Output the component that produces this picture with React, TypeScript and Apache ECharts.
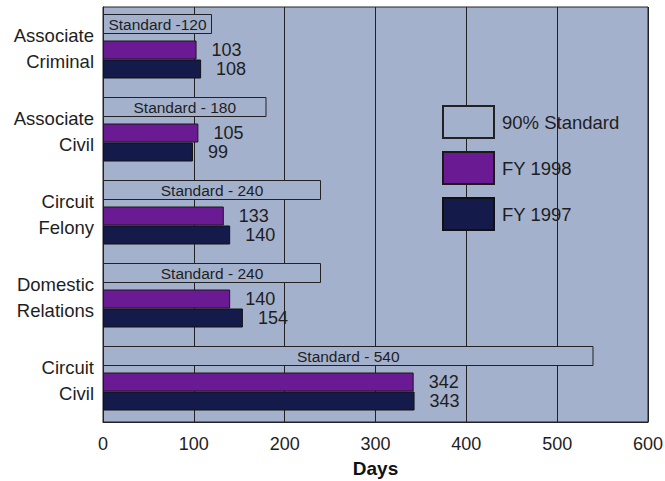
import React, { useEffect, useRef } from "react";
import * as echarts from "echarts";

const categories = [
  "Associate\nCriminal",
  "Associate\nCivil",
  "Circuit\nFelony",
  "Domestic\nRelations",
  "Circuit\nCivil",
];
const standardDays = [120, 180, 240, 240, 540];
const standardLabels = [
  "Standard -120",
  "Standard - 180",
  "Standard - 240",
  "Standard - 240",
  "Standard - 540",
];
const fy1998 = [103, 105, 133, 140, 342];
const fy1997 = [108, 99, 140, 154, 343];
const spacer = [0, 0, 0, 0, 0];
const xMin = 0;
const xMax = 600;
const xStep = 100;

const BG = "#a4b1cc";
const TXT = "#1e1e1e";
const FONT = "'Liberation Sans', Arial, Helvetica, sans-serif";

export default function App() {
  const ref = useRef<HTMLDivElement>(null);
  useEffect(() => {
    if (!ref.current) return;
    const chart = echarts.init(ref.current, undefined, { renderer: "svg" });
    const gridBase = {
      left: 103,
      width: 545,
      height: 415,
      outerBoundsMode: "none",
      containLabel: false,
    };
    chart.setOption({
      animation: false,
      textStyle: { fontFamily: FONT },
      grid: [
        {
          ...gridBase,
          top: 7,
          show: true,
          backgroundColor: BG,
          borderColor: "#222",
          borderWidth: 1,
        },
        { ...gridBase, top: 18 },
      ],
      xAxis: [
        {
          type: "value",
          gridIndex: 0,
          min: xMin,
          max: xMax,
          interval: xStep,
          name: "Days",
          nameLocation: "middle",
          nameGap: 37,
          nameMoveOverlap: false,
          nameTextStyle: {
            fontSize: 19,
            fontWeight: "bold",
            color: "#111",
            fontFamily: FONT,
          },
          axisLine: { show: true, lineStyle: { color: "#222", width: 1 } },
          axisTick: { show: false },
          axisLabel: { fontSize: 18, color: TXT, margin: 13, fontFamily: FONT },
          splitLine: { show: true, lineStyle: { color: "#222", width: 1 } },
        },
        {
          type: "value",
          gridIndex: 1,
          min: xMin,
          max: xMax,
          interval: xStep,
          show: false,
        },
      ],
      yAxis: [
        {
          type: "category",
          gridIndex: 0,
          data: categories,
          inverse: true,
          axisLine: { show: true, lineStyle: { color: "#222", width: 1 } },
          axisTick: { show: false },
          splitLine: { show: false },
          axisLabel: {
            fontSize: 18.5,
            lineHeight: 26,
            color: TXT,
            margin: 9,
            align: "right",
            fontFamily: FONT,
          },
        },
        {
          type: "category",
          gridIndex: 1,
          data: categories,
          inverse: true,
          show: false,
        },
      ],
      legend: {
        data: ["90% Standard", "FY 1998", "FY 1997"],
        orient: "vertical",
        left: 437,
        top: 100,
        itemWidth: 51,
        itemHeight: 32,
        itemGap: 12,
        icon: "rect",
        textStyle: {
          fontSize: 18.5,
          color: TXT,
          fontFamily: FONT,
          padding: [0, 0, 0, 3],
        },
      },
      series: [
        {
          name: "90% Standard",
          type: "bar",
          xAxisIndex: 0,
          yAxisIndex: 0,
          barWidth: 20,
          barGap: 0,
          data: standardDays,
          itemStyle: { color: BG, borderColor: "#222", borderWidth: 1 },
          label: {
            show: true,
            position: "inside",
            fontSize: 15.5,
            color: TXT,
            fontFamily: FONT,
            formatter: (p: any) => standardLabels[p.dataIndex],
          },
        },
        {
          name: "spacer",
          type: "bar",
          xAxisIndex: 0,
          yAxisIndex: 0,
          barWidth: 49,
          barGap: 0,
          data: spacer,
          silent: true,
          itemStyle: { color: "rgba(0,0,0,0)", borderWidth: 0 },
          label: { show: false },
        },
        {
          name: "FY 1998",
          type: "bar",
          xAxisIndex: 1,
          yAxisIndex: 1,
          barWidth: 19,
          barGap: 0,
          data: fy1998,
          itemStyle: { color: "#6a1b93", borderColor: "#1a1a1a", borderWidth: 1 },
          label: {
            show: true,
            position: "right",
            distance: 15,
            fontSize: 18,
            color: TXT,
            fontFamily: FONT,
          },
        },
        {
          name: "FY 1997",
          type: "bar",
          xAxisIndex: 1,
          yAxisIndex: 1,
          barWidth: 19,
          barGap: 0,
          data: fy1997,
          itemStyle: { color: "#141a4a", borderColor: "#111", borderWidth: 1 },
          label: {
            show: true,
            position: "right",
            distance: 15,
            fontSize: 18,
            color: TXT,
            fontFamily: FONT,
          },
        },
      ],
    });
    return () => chart.dispose();
  }, []);
  return (
    <div
      ref={ref}
      style={{ position: "absolute", left: 0, top: 0, width: 665, height: 481 }}
    />
  );
}
